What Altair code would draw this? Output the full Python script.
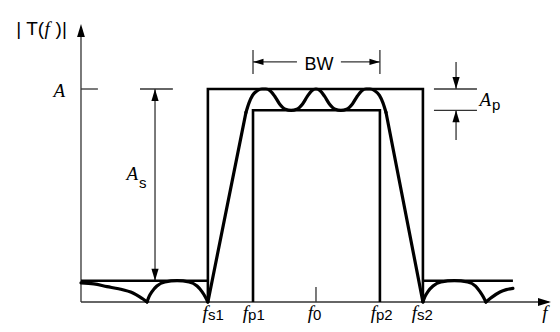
import altair as alt
import pandas as pd

# ---- values ----------------------------------------------------------------
# frequency in units of f0, magnitude in units of A
edge_names = ["s1", "p1", "0", "p2", "s2"]
edge_f = [0.540, 0.732, 1.000, 1.272, 1.455]
label_split_f = [0.540, 0.711, 0.987, 1.255, 1.430]
A_level = 1.0
pass_floor = 0.9      # A - Ap
stop_level = 0.1
stop_end_f = 1.838
bw_level = 1.127

# response curve pieces
tail_left_f = [0.0, 0.055, 0.111, 0.160, 0.221, 0.250, 0.264, 0.281]
tail_left_a = [0.090, 0.085, 0.072, 0.062, 0.042, 0.024, 0.014, 0.0]
lobe_left_f = [0.281, 0.290, 0.303, 0.323, 0.357, 0.409, 0.460, 0.494, 0.514, 0.528, 0.540]
lobe_left_a = [0.0, 0.026, 0.050, 0.075, 0.094, 0.100, 0.094, 0.075, 0.050, 0.026, 0.0]
pass_f = [0.702, 0.715, 0.730, 0.750, 0.770, 0.787, 0.805, 0.825, 0.845, 0.870, 0.894,
          0.918, 0.943, 0.963, 0.982, 1.000, 1.018, 1.037, 1.057, 1.082, 1.106,
          1.130, 1.155, 1.175, 1.195, 1.213, 1.230, 1.250, 1.270, 1.285, 1.298]
pass_a = [0.89, 0.935, 0.97, 0.992, 1.0, 1.0, 0.992, 0.965, 0.93, 0.905, 0.9,
          0.905, 0.93, 0.965, 0.992, 1.0, 0.992, 0.965, 0.93, 0.905, 0.9,
          0.905, 0.93, 0.965, 0.992, 1.0, 1.0, 0.992, 0.97, 0.935, 0.89]
lobe_right_f = [1.455, 1.464, 1.477, 1.498, 1.532, 1.589, 1.645, 1.679, 1.697, 1.711, 1.723]
lobe_right_a = [0.0, 0.026, 0.050, 0.075, 0.094, 0.100, 0.094, 0.075, 0.050, 0.026, 0.0]
tail_right_f = [1.723, 1.736, 1.749, 1.783, 1.810, 1.838]
tail_right_a = [0.0, 0.012, 0.023, 0.047, 0.058, 0.064]

# ---- helpers ------------------------------------------------------------------
def poly(rows, pts, sid):
    for i, (f, a) in enumerate(pts):
        rows.append({"f": f, "a": a, "id": sid, "o": i})

fs1, fp1, f0, fp2, fs2 = edge_f

thin = []
poly(thin, [(0, 0), (0, 1.29)], "yaxis")
poly(thin, [(0, 0), (1.99, 0)], "xaxis")
poly(thin, [(0, A_level), (0.072, A_level)], "Atick")
poly(thin, [(0.315, stop_level), (0.315, A_level)], "As")
poly(thin, [(0.251, A_level), (0.391, A_level)], "Astick")
poly(thin, [(1.502, A_level), (1.685, A_level)], "Ap1")
poly(thin, [(1.502, pass_floor), (1.685, pass_floor)], "Ap2")
poly(thin, [(1.596, bw_level), (1.596, A_level)], "Ap3")
poly(thin, [(1.596, pass_floor), (1.596, 0.761)], "Ap4")
poly(thin, [(fp1, 1.070), (fp1, 1.183)], "bw1")
poly(thin, [(fp2, 1.070), (fp2, 1.183)], "bw2")
poly(thin, [(fp1, bw_level), (0.919, bw_level)], "bw3")
poly(thin, [(1.106, bw_level), (fp2, bw_level)], "bw4")
poly(thin, [(f0, 0), (f0, 0.070)], "f0tick")
thin_df = pd.DataFrame(thin)

spec = []
poly(spec, [(fs1, 0), (fs1, A_level), (fs2, A_level), (fs2, 0)], "outer")
poly(spec, [(fp1, 0), (fp1, pass_floor), (fp2, pass_floor), (fp2, 0)], "inner")
poly(spec, [(0, stop_level), (fs1, stop_level)], "stopL")
poly(spec, [(fs2, stop_level), (stop_end_f, stop_level)], "stopR")
spec_df = pd.DataFrame(spec)

lin = []
poly(lin, [(fs1, 0), (pass_f[0], pass_a[0])], "trL")
poly(lin, [(pass_f[-1], pass_a[-1]), (fs2, 0)], "trR")
lin_df = pd.DataFrame(lin)

smooth = []
poly(smooth, list(zip(tail_left_f, tail_left_a)), "tl")
poly(smooth, list(zip(lobe_left_f, lobe_left_a)), "ll")
poly(smooth, list(zip(pass_f, pass_a)), "pb")
poly(smooth, list(zip(lobe_right_f, lobe_right_a)), "lr")
poly(smooth, list(zip(tail_right_f, tail_right_a)), "tr")
smooth_df = pd.DataFrame(smooth)

arrows_df = pd.DataFrame([
    {"f": 0, "a": 1.305, "ang": 0, "s": 169},
    {"f": 2.0, "a": 0, "ang": 90, "s": 169},
    {"f": 0.315, "a": A_level, "ang": 0, "s": 144},
    {"f": 0.315, "a": stop_level, "ang": 180, "s": 144},
    {"f": 1.596, "a": A_level, "ang": 180, "s": 144},
    {"f": 1.596, "a": pass_floor, "ang": 0, "s": 144},
    {"f": fp1, "a": bw_level, "ang": 270, "s": 110},
    {"f": fp2, "a": bw_level, "ang": 90, "s": 110},
])

serif_df = pd.DataFrame(
    [{"f": x, "a": -0.080, "t": "f", "al": "right"} for x in label_split_f]
    + [{"f": 1.985, "a": -0.080, "t": "f", "al": "right"},
       {"f": -0.068, "a": 0.962, "t": "A", "al": "right"},
       {"f": 0.243, "a": 0.573, "t": "A", "al": "right"},
       {"f": 1.745, "a": 0.920, "t": "A", "al": "right"},
       {"f": -0.155, "a": 1.254, "t": "f", "al": "left"}]
)
sub_df = pd.DataFrame(
    [{"f": x, "a": -0.085, "t": n} for x, n in zip(label_split_f, edge_names)]
    + [{"f": 0.247, "a": 0.535, "t": "s"},
       {"f": 1.749, "a": 0.901, "t": "p"}]
)
sans_df = pd.DataFrame([
    {"f": -0.157, "a": 1.254, "t": "| T(", "al": "right", "fs": 19},
    {"f": -0.108, "a": 1.254, "t": ")|", "al": "left", "fs": 19},
    {"f": 1.013, "a": 1.090, "t": "BW", "al": "center", "fs": 18},
])

# ---- chart ----------------------------------------------------------------------
X = alt.X("f:Q", scale=alt.Scale(domain=[-0.3106, 2.0043], nice=False, zero=False), axis=None)
Y = alt.Y("a:Q", scale=alt.Scale(domain=[-0.1033, 1.3803], nice=False, zero=False), axis=None)

thin_l = alt.Chart(thin_df).mark_line(color="#333", strokeWidth=1.3).encode(
    x=X, y=Y, detail="id:N", order="o:Q")
spec_l = alt.Chart(spec_df).mark_line(color="black", strokeWidth=2.6).encode(
    x=X, y=Y, detail="id:N", order="o:Q")
lin_l = alt.Chart(lin_df).mark_line(color="black", strokeWidth=3.2, strokeCap="round").encode(
    x=X, y=Y, detail="id:N", order="o:Q")
smooth_l = alt.Chart(smooth_df).mark_line(color="black", strokeWidth=3.2, interpolate="monotone",
                                          strokeCap="round").encode(
    x=X, y=Y, detail="id:N", order="o:Q")
arrow_l = alt.Chart(arrows_df).mark_point(
    shape="M0,0L0.6,2L-0.6,2Z", filled=True, color="black", opacity=1, strokeWidth=0).encode(
    x=X, y=Y, angle=alt.Angle("ang:Q", scale=None), size=alt.Size("s:Q", scale=None))

serif_r = alt.Chart(serif_df[serif_df.al == "right"]).mark_text(
    font="Liberation Serif", fontStyle="italic", fontSize=19, align="right",
    baseline="alphabetic", color="black").encode(x=X, y=Y, text="t:N")
serif_lft = alt.Chart(serif_df[serif_df.al == "left"]).mark_text(
    font="Liberation Serif", fontStyle="italic", fontSize=19, align="left",
    baseline="alphabetic", color="black").encode(x=X, y=Y, text="t:N")
sub_t = alt.Chart(sub_df).mark_text(
    font="Liberation Sans", fontSize=15, align="left", baseline="alphabetic",
    color="black").encode(x=X, y=Y, text="t:N")
sans_layers = [
    alt.Chart(sans_df[sans_df.al == al]).mark_text(
        font="Liberation Sans", align=al, baseline="alphabetic",
        color="black").encode(x=X, y=Y, text="t:N", size=alt.Size("fs:Q", scale=None))
    for al in ["right", "left", "center"]
]

chart = alt.layer(thin_l, spec_l, lin_l, smooth_l, arrow_l, serif_r, serif_lft, sub_t,
                  *sans_layers).properties(
    width=544, height=316, autosize=alt.AutoSizeParams(type="none"), padding=0,
).configure_view(stroke=None)

chart.save("out.html", embed_options={"renderer": "svg", "actions": False})
